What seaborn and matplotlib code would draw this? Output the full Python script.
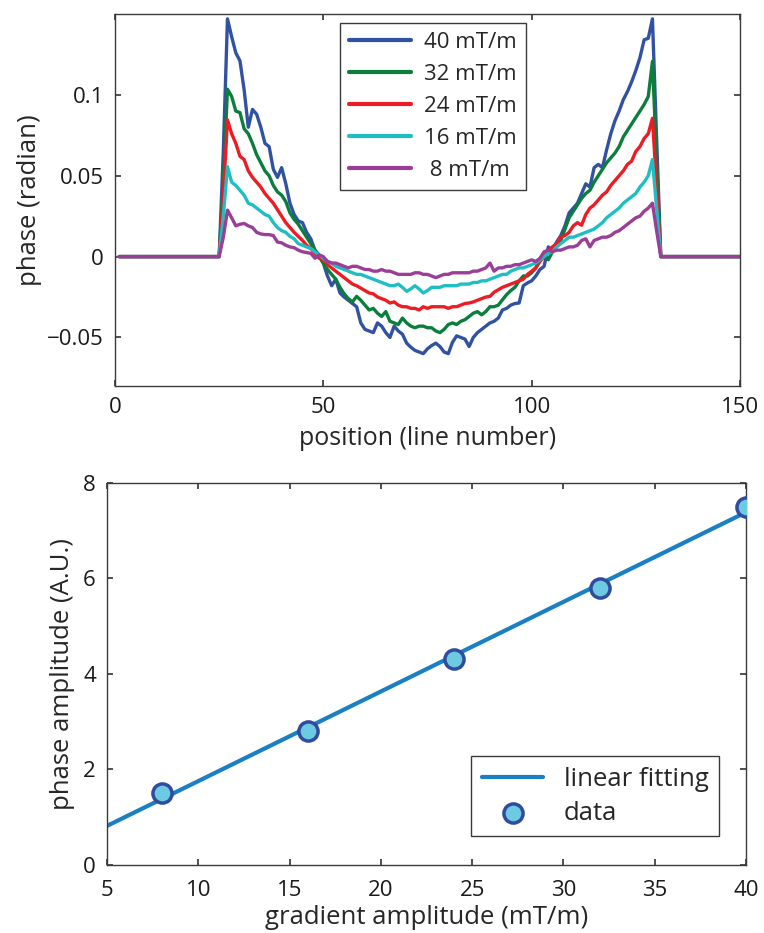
import numpy as np
import pandas as pd
import matplotlib
matplotlib.use("Agg")
import matplotlib.pyplot as plt
import seaborn as sns

line_pos = [1] + list(range(25, 132)) + [150]

phase_40 = [0,
    0, 0.065, 0.147, 0.136, 0.126, 0.121, 0.103, 0.080, 0.091, 0.088,
    0.080, 0.070, 0.068, 0.054, 0.049, 0.055, 0.045, 0.033, 0.026, 0.022,
    0.021, 0.015, 0.011, 0.004, 0.001, -0.004, -0.012, -0.018, -0.014, -0.0225,
    -0.025, -0.027, -0.029, -0.031, -0.041, -0.045, -0.046, -0.047, -0.041, -0.043,
    -0.047, -0.050, -0.043, -0.046, -0.048, -0.0535, -0.056, -0.058, -0.059, -0.060,
    -0.057, -0.055, -0.0535, -0.0556, -0.059, -0.060, -0.053, -0.049, -0.050, -0.051,
    -0.0556, -0.050, -0.047, -0.045, -0.043, -0.041, -0.040, -0.038, -0.033, -0.032,
    -0.030, -0.029, -0.0287, -0.018, -0.0163, -0.015, -0.012, -0.008, -0.006, 0.006,
    0.004, 0.009, 0.013, 0.019, 0.027, 0.030, 0.033, 0.039, 0.045, 0.043,
    0.055, 0.057, 0.055, 0.066, 0.076, 0.084, 0.090, 0.097, 0.102, 0.108,
    0.115, 0.123, 0.134, 0.135, 0.147, 0.073, 0,
    0]

phase_32 = [0,
    0, 0.046, 0.1035, 0.099, 0.090, 0.089, 0.079, 0.076, 0.070, 0.063,
    0.058, 0.053, 0.050, 0.044, 0.040, 0.038, 0.034, 0.027, 0.023, 0.020,
    0.016, 0.012, 0.008, 0.004, 0.000, -0.004, -0.008, -0.011, -0.014, -0.019,
    -0.023, -0.026, -0.028, -0.0246, -0.027, -0.030, -0.033, -0.032, -0.035, -0.037,
    -0.034, -0.040, -0.041, -0.042, -0.038, -0.041, -0.043, -0.044, -0.043, -0.043,
    -0.044, -0.044, -0.046, -0.047, -0.045, -0.042, -0.041, -0.042, -0.040, -0.039,
    -0.037, -0.035, -0.034, -0.036, -0.034, -0.031, -0.031, -0.030, -0.0267, -0.0235,
    -0.021, -0.019, -0.015, -0.012, -0.012, -0.010, -0.007, -0.002, 0.002, -0.002,
    0.003, 0.007, 0.010, 0.017, 0.024, 0.028, 0.032, 0.036, 0.039, 0.041,
    0.046, 0.050, 0.054, 0.058, 0.061, 0.064, 0.068, 0.074, 0.078, 0.082,
    0.086, 0.090, 0.094, 0.099, 0.1207, 0.060, 0,
    0]

phase_24 = [0,
    0, 0.038, 0.0845, 0.076, 0.070, 0.062, 0.060, 0.053, 0.049, 0.046,
    0.043, 0.039, 0.036, 0.033, 0.029, 0.025, 0.021, 0.018, 0.015, 0.0125,
    0.010, 0.007, 0.005, 0.002, -0.001, -0.002, -0.005, -0.007, -0.009, -0.011,
    -0.013, -0.015, -0.017, -0.018, -0.0195, -0.021, -0.0225, -0.023, -0.025, -0.026,
    -0.027, -0.0287, -0.028, -0.030, -0.031, -0.031, -0.032, -0.032, -0.033, -0.031,
    -0.032, -0.031, -0.031, -0.031, -0.031, -0.032, -0.031, -0.031, -0.030, -0.029,
    -0.0287, -0.028, -0.027, -0.026, -0.025, -0.0246, -0.022, -0.0205, -0.019, -0.018,
    -0.017, -0.016, -0.015, -0.014, -0.011, -0.009, -0.007, -0.003, 0.000, 0.004,
    0.006, 0.008, 0.012, 0.013, 0.015, 0.019, 0.021, 0.0194, 0.026, 0.030,
    0.032, 0.035, 0.038, 0.040, 0.044, 0.047, 0.050, 0.053, 0.057, 0.059,
    0.065, 0.068, 0.073, 0.076, 0.0855, 0.043, 0,
    0]

phase_16 = [0,
    0, 0.025, 0.0556, 0.046, 0.044, 0.041, 0.038, 0.033, 0.032, 0.030,
    0.028, 0.026, 0.025, 0.021, 0.018, 0.016, 0.015, 0.0125, 0.011, 0.008,
    0.007, 0.006, 0.005, 0.003, 0.001, -0.001, -0.003, -0.004, -0.006, -0.007,
    -0.008, -0.009, -0.010, -0.011, -0.011, -0.012, -0.013, -0.014, -0.015, -0.016,
    -0.017, -0.018, -0.018, -0.017, -0.019, -0.0215, -0.020, -0.018, -0.020, -0.0225,
    -0.021, -0.019, -0.019, -0.019, -0.018, -0.018, -0.018, -0.018, -0.017, -0.017,
    -0.017, -0.016, -0.016, -0.015, -0.015, -0.014, -0.013, -0.012, -0.011, -0.011,
    -0.009, -0.008, -0.007, -0.007, -0.006, -0.005, -0.004, -0.002, 0.000, 0.002,
    0.003, 0.006, 0.008, 0.010, 0.012, 0.012, 0.013, 0.014, 0.015, 0.016,
    0.017, 0.019, 0.021, 0.024, 0.026, 0.028, 0.030, 0.033, 0.035, 0.037,
    0.039, 0.043, 0.046, 0.050, 0.060, 0.030, 0,
    0]

phase_8 = [0,
    0, 0.012, 0.0287, 0.024, 0.019, 0.020, 0.0205, 0.019, 0.018, 0.015,
    0.014, 0.0136, 0.0136, 0.013, 0.009, 0.0085, 0.007, 0.006, 0.0055, 0.004,
    0.003, 0.0025, 0.002, -0.001, 0.001, 0.000, -0.003, -0.004, -0.004, -0.005,
    -0.006, -0.007, -0.006, -0.006, -0.007, -0.008, -0.008, -0.009, -0.009, -0.008,
    -0.009, -0.009, -0.010, -0.011, -0.011, -0.011, -0.011, -0.010, -0.010, -0.011,
    -0.011, -0.012, -0.013, -0.012, -0.011, -0.011, -0.010, -0.010, -0.010, -0.010,
    -0.010, -0.009, -0.009, -0.008, -0.007, -0.004, -0.009, -0.007, -0.007, -0.006,
    -0.006, -0.005, -0.005, -0.004, -0.003, -0.002, -0.003, -0.001, 0.003, 0.004,
    0.003, 0.004, 0.004, 0.005, 0.006, 0.006, 0.007, 0.010, 0.011, 0.006,
    0.010, 0.011, 0.012, 0.012, 0.013, 0.015, 0.016, 0.018, 0.020, 0.022,
    0.024, 0.025, 0.028, 0.030, 0.033, 0.016, 0,
    0]

grad_labels = ["40 mT/m", "32 mT/m", "24 mT/m", "16 mT/m", " 8 mT/m"]
grad_colors = ["#3151a3", "#0b7d3c", "#ec1c24", "#1fbec3", "#9b3e98"]

# ---- bottom panel: amplitude vs gradient ----
gradient = [8, 16, 24, 32, 40]
amplitude = [1.5, 2.8, 4.3, 5.8, 7.5]

sns.set_theme(style="ticks")
plt.rcParams["font.family"] = ["Open Sans", "DejaVu Sans"]
plt.rcParams["axes.edgecolor"] = "#3a3a3a"
plt.rcParams["axes.linewidth"] = 1.0
plt.rcParams["xtick.direction"] = "in"
plt.rcParams["ytick.direction"] = "in"
plt.rcParams["xtick.top"] = True
plt.rcParams["ytick.right"] = True
plt.rcParams["xtick.color"] = "#3a3a3a"
plt.rcParams["ytick.color"] = "#3a3a3a"
plt.rcParams["xtick.labelcolor"] = "#1a1a1a"
plt.rcParams["ytick.labelcolor"] = "#1a1a1a"
plt.rcParams["xtick.major.size"] = 4
plt.rcParams["ytick.major.size"] = 4

fig = plt.figure(figsize=(7.64, 9.33), dpi=100)
ax1 = fig.add_axes([0.1505, 0.5863, 0.818, 0.3987])
ax2 = fig.add_axes([0.140, 0.0729, 0.8364, 0.4098])

# top panel
series = [phase_40, phase_32, phase_24, phase_16, phase_8]
frames = []
for lab, vals in zip(grad_labels, series):
    frames.append(pd.DataFrame({"pos": line_pos, "phase": vals, "grad": lab}))
df = pd.concat(frames, ignore_index=True)

sns.lineplot(data=df, x="pos", y="phase", hue="grad", hue_order=grad_labels,
             palette=dict(zip(grad_labels, grad_colors)), estimator=None,
             sort=False, linewidth=2.4, ax=ax1)
ax1.set_xlim(0, 150)
ax1.set_ylim(-0.08, 0.15)
ax1.set_xticks([0, 50, 100, 150])
ax1.set_yticks([-0.05, 0, 0.05, 0.1])
ax1.set_yticklabels(["\u22120.05", "0", "0.05", "0.1"])
ax1.tick_params(labelsize=16, pad=8)
ax1.set_xlabel("position (line number)", fontsize=18, labelpad=6)
ax1.set_ylabel("phase (radian)", fontsize=18.5, labelpad=4)
leg1 = ax1.legend(loc="upper left", bbox_to_anchor=(0.36, 0.976), borderaxespad=0,
                  fontsize=16, handlelength=2.8, labelspacing=0.5, handletextpad=0.6,
                  fancybox=False, edgecolor="#3a3a3a", framealpha=1)
for line in leg1.get_lines():
    line.set_linewidth(3)
leg1.get_frame().set_linewidth(1.0)

# bottom panel
fit = np.polyfit(gradient, amplitude, 1)
fit_x = [5, 40]
fit_df = pd.DataFrame({"g": fit_x, "a": np.polyval(fit, fit_x)})
pts_df = pd.DataFrame({"g": gradient, "a": amplitude})

sns.lineplot(data=fit_df, x="g", y="a", color="#1a7fc3", linewidth=3.0,
             label="linear fitting", ax=ax2)
sns.scatterplot(data=pts_df, x="g", y="a", s=190, color="#6ccbe0",
                edgecolor="#2f4c9e", linewidth=2.5, label="data", zorder=3, ax=ax2)
ax2.set_xlim(5, 40)
ax2.set_ylim(0, 8)
ax2.set_xticks(range(5, 41, 5))
ax2.set_yticks(range(0, 9, 2))
ax2.tick_params(axis="x", labelsize=16, pad=11)
ax2.tick_params(axis="y", labelsize=16, pad=8)
ax2.set_xlabel("gradient amplitude (mT/m)", fontsize=18.5, labelpad=3)
ax2.set_ylabel("phase amplitude (A.U.)", fontsize=18.5, labelpad=6)
leg2 = ax2.legend(loc="lower right", bbox_to_anchor=(0.958, 0.076), borderaxespad=0,
                  fontsize=18.5, handlelength=2.4, labelspacing=0.35,
                  fancybox=False, edgecolor="#3a3a3a", framealpha=1)
leg2.get_frame().set_linewidth(1.0)

fig.savefig("out.png", dpi=100)
